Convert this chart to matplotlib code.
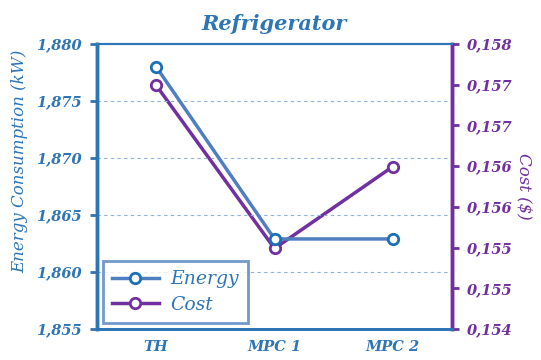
import numpy as np
import matplotlib
matplotlib.use("Agg")
import matplotlib.pyplot as plt
from matplotlib.ticker import FuncFormatter
from matplotlib.font_manager import FontProperties

categories = ["TH", "MPC 1", "MPC 2"]
energy = [1.8780, 1.8629, 1.8629]
cost = [0.15742, 0.15513, 0.15628]
energy_ticks = [1.855, 1.860, 1.865, 1.870, 1.875, 1.880]
cost_ticks = list(np.linspace(0.154, 0.158, 8))

BLUE = "#2e75b6"
LINE_BLUE = "#4f7fc0"
PURPLE = "#7030a0"
FONT = "DejaVu Serif"

fig = plt.figure(figsize=(5.41, 3.6), dpi=100)
ax = fig.add_axes([97/541, 1-329/360, (452-97)/541, (329-44)/360])
ax2 = ax.twinx()

x = np.arange(len(categories))
l1, = ax.plot(x, energy, color=LINE_BLUE, lw=2.5, marker="o", ms=7.5,
              mfc="white", mec="#1a6fb5", mew=2, label="Energy", zorder=3)
l2, = ax2.plot(x, cost, color=PURPLE, lw=2.5, marker="o", ms=7.5,
               mfc="white", mec=PURPLE, mew=2, label="Cost", zorder=3)

ax.set_xlim(-0.5, 2.5)
ax.set_ylim(1.855, 1.880)
ax2.set_ylim(0.154, 0.158)
ax.set_yticks(energy_ticks)
ax2.set_yticks(cost_ticks)
fmt = FuncFormatter(lambda v, p: f"{v:.3f}".replace(".", ","))
ax.yaxis.set_major_formatter(fmt)
ax2.yaxis.set_major_formatter(fmt)
ax.set_xticks(x)
ax.set_xticklabels(categories)

for yv in energy_ticks[1:-1]:
    ax.axhline(yv, color="#8fb0d8", lw=0.8, ls=(0, (3, 3)), zorder=1)

yfp = FontProperties(family=FONT, style="italic", weight="bold", size=10.5)
xfp = FontProperties(family=FONT, style="italic", weight="bold", size=10.5)
for lab in ax.get_yticklabels():
    lab.set_fontproperties(yfp)
    lab.set_color(BLUE)
for lab in ax.get_xticklabels():
    lab.set_fontproperties(xfp)
    lab.set_color(BLUE)
for lab in ax2.get_yticklabels():
    lab.set_fontproperties(yfp)
    lab.set_color(PURPLE)

ax.tick_params(axis="y", colors=BLUE, width=2, length=5, pad=6)
ax.tick_params(axis="x", length=0, pad=8)
ax2.tick_params(axis="y", colors=PURPLE, width=2, length=5, pad=6)

for a in (ax, ax2):
    a.spines["top"].set_color(BLUE)
    a.spines["top"].set_linewidth(1.5)
    a.spines["bottom"].set_color(BLUE)
    a.spines["bottom"].set_linewidth(2)
    a.spines["left"].set_color(BLUE)
    a.spines["left"].set_linewidth(2.5)
    a.spines["right"].set_color(PURPLE)
    a.spines["right"].set_linewidth(2.5)

ax.set_ylabel("Energy Consumption (kW)", color=BLUE, family=FONT,
              style="italic", size=12)
ax.yaxis.set_label_coords(-0.194, 0.59)
ax2.set_ylabel("Cost ($)", color=PURPLE, family=FONT, style="italic",
               size=12, rotation=-90, labelpad=14)
ax.set_title("Refrigerator", color=BLUE, family=FONT, style="italic",
             weight="bold", size=15, pad=10)

leg = ax.legend([l1, l2], ["Energy", "Cost"], loc="lower left",
                bbox_to_anchor=(0.0, 0.0), fancybox=False,
                prop=dict(family=FONT, style="italic", size=13.5),
                handlelength=2.5, borderpad=0.5, labelspacing=0.4,
                handletextpad=0.6, borderaxespad=0.3)
leg.get_frame().set_edgecolor(LINE_BLUE)
leg.get_frame().set_linewidth(2)
for t in leg.get_texts():
    t.set_color(BLUE)
leg.set_zorder(5)
ax.set_zorder(ax2.get_zorder() + 1)
ax.patch.set_visible(False)

fig.savefig("out.png", dpi=100)
